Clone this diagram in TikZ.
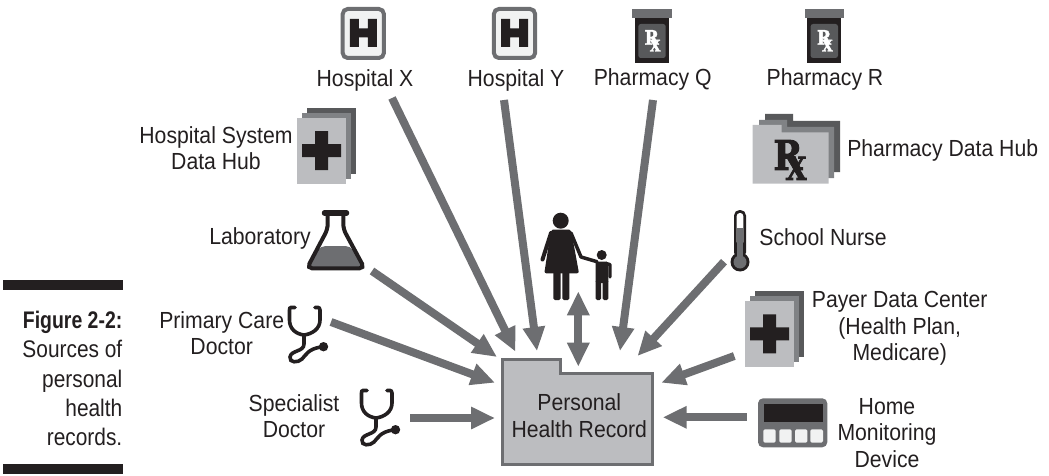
\documentclass[tikz,border=0pt]{standalone}
\usepackage{fontspec}
\setmainfont[FakeStretch=.91]{Liberation Sans}
\newfontfamily\capfont[FakeStretch=.87,BoldFeatures={FakeStretch=.81}]{Liberation Sans}
\newfontfamily\rxfont[FakeStretch=.85,FakeBold=2.2]{DejaVu Serif Bold}
\usetikzlibrary{arrows.meta}
\definecolor{flowgrey}{HTML}{6D6E71}
\definecolor{ink}{HTML}{231F20}
\definecolor{foldergrey}{HTML}{BCBDC0}
\definecolor{midgrey}{HTML}{808285}
\definecolor{darkgrey}{HTML}{58595B}
\definecolor{paper}{HTML}{F1F2F2}
\tikzset{
  lbl/.style={text=ink, align=center, inner sep=0pt, font=\fontsize{23.3}{26.5}\selectfont},
  caption/.style={text=ink, align=right, inner sep=0pt, anchor=east, font=\capfont\fontsize{24}{29.2}\selectfont},
  flow/.style={draw=flowgrey, line width=8pt, -{Triangle[length=24pt,width=21pt]}},
  flowboth/.style={draw=flowgrey, line width=8pt, {Triangle[length=24pt,width=21pt]}-{Triangle[length=24pt,width=21pt]}},
  hospital/.pic={
    \draw[flowgrey, fill=paper, line width=4pt, rounded corners=5pt] (-20.6,-24.5) rectangle (20.6,24.5);
    \fill[ink] (-13.5,-14.5) rectangle (-4.5,13.5) (4.5,-14.5) rectangle (13.5,13.5) (-5,-5) rectangle (5,4);
  },
  bottle/.pic={
    \fill[flowgrey] (-19.7,9) rectangle (19.7,18);
    \fill[ink] (-17,18) rectangle (17,63);
    \fill[darkgrey, rounded corners=2.5pt] (-13.7,24) rectangle (13.7,58);
    \node[white, inner sep=0pt, font=\rxfont\fontsize{20}{20}\selectfont] (-rx) at (0.5,40.8) {R\kern-9pt\raisebox{-6.7pt}{\fontsize{16}{16}\selectfont X}};
  },
  stack/.pic={
    \fill[darkgrey] (-14.5,-43) rectangle (34.5,23);
    \fill[midgrey] (-19.5,-38) rectangle (29.5,28);
    \fill[foldergrey] (-24.5,-33) rectangle (24.5,33);
    \fill[ink] (-19.5,-6.5) rectangle (19.5,6.5) (-6.5,-19.5) rectangle (6.5,19.5);
  },
  scope/.pic={
    \draw[ink, line width=3.6pt, line cap=round] (7,1.5) -- (3,1.5) .. controls (1.8,1.5) and (1.5,2.5) .. (1.5,4) -- (1.5,14) .. controls (1.5,23) and (8,28) .. (16,29) .. controls (24,28) and (32,23) .. (32,14) -- (32,4) .. controls (32,2.5) and (31,1.5) .. (30,1.5) -- (27,1.5);
    \draw[ink, line width=3.6pt] (16,29) -- (16,38) .. controls (16,46) and (3,44) .. (2,51) .. controls (1,57) and (10,57) .. (14,53) .. controls (18,49) and (20,43) .. (33,41);
    \fill[ink] (35.5,40.7) circle[radius=4.7];
  }
}
\begin{document}
\begin{tikzpicture}[x=1pt,y=-1pt]
\useasboundingbox (0,0) rectangle (1049,476);

% caption
\fill[ink] (3,279.5) rectangle (122.5,290);
\fill[ink] (3,463.5) rectangle (122.5,474);
\node[caption] (fig) at (122.5,378.5) {\bfseries Figure 2-2:\\Sources of\\personal\\health\\records.};

% record
\path[draw=flowgrey, fill=foldergrey, line width=3pt] (502,359) -- (560.7,359) -- (560.7,373.3) -- (652.7,373.3) -- (652.7,464) -- (502,464) -- cycle;
\node[lbl] (rec) at (579.3,415.5) {Personal\\Health Record};

% top row
\pic (hospx) at (363.3,33.5) {hospital};
\pic (hospy) at (514.5,33.5) {hospital};
\pic (pharmq) at (652,0) {bottle};
\pic (pharmr) at (824.3,0) {bottle};
\node[lbl] (lhx) at (365,80) {Hospital X};
\node[lbl] (lhy) at (516,80) {Hospital Y};
\node[lbl] (lpq) at (652.7,79) {Pharmacy Q};
\node[lbl] (lpr) at (825,79) {Pharmacy R};

% hubs
\pic (hsys) at (321.5,150.7) {stack};
\node[lbl] (lhs) at (216,148) {Hospital System\\Data Hub};
\fill[darkgrey] (765,121) -- (765,114) -- (793,114) -- (793,121) -- (840,121) -- (840,172) -- (765,172) -- cycle;
\fill[midgrey] (759,127) -- (759,120) -- (787,120) -- (787,127) -- (834,127) -- (834,178) -- (759,178) -- cycle;
\fill[foldergrey] (752.7,183.7) -- (752.7,125) -- (781.7,125) -- (781.7,132.3) -- (828.7,132.3) -- (828.7,183.7) -- cycle;
\node[ink, inner sep=0pt, font=\rxfont\fontsize{41}{41}\selectfont] (rxhub) at (790,160) {R\kern-17pt\raisebox{-10pt}{\fontsize{32}{32}\selectfont X}};
\node[lbl] (lph) at (942.7,150) {Pharmacy Data Hub};

% laboratory
\fill[flowgrey, rounded corners=5pt] (320.5,246) -- (350.5,246) -- (364,268.3) -- (307,268.3) -- cycle;
\draw[ink, line width=4pt, rounded corners=5pt] (327.7,214) -- (327.7,229) -- (307,268.3) -- (364.5,268.3) -- (343.3,229) -- (343.3,214);
\draw[ink, line width=5.5pt, line cap=round] (324.5,213) -- (346.5,213);
\node[lbl] (llab) at (260,238) {Laboratory};

% person and child
\fill[ink] (560.7,220.7) circle[radius=8];
\fill[ink, rounded corners=2pt] (551,229.5) -- (571,229.5) -- (579,273.3) -- (544.3,273.3) -- cycle;
\draw[ink, line width=4pt, line cap=round] (551,233) -- (542.5,259.5);
\draw[ink, line width=3.5pt, line cap=round, line join=round] (571,233) -- (581,257) -- (597,261.7);
\fill[ink, rounded corners=1.5pt] (553.3,270) rectangle (560.7,300);
\fill[ink, rounded corners=1.5pt] (562.3,270) rectangle (569.3,300);
\fill[ink] (601.7,255) circle[radius=5];
\fill[ink, rounded corners=1.5pt] (595.7,261.7) rectangle (608.3,283);
\fill[ink, rounded corners=1.5pt] (595.7,280) rectangle (601,300);
\fill[ink, rounded corners=1.5pt] (602.7,280) rectangle (608.3,300);
\draw[ink, line width=3.3pt, line cap=round, line join=round] (606,263.5) -- (610,264.5) -- (610,277);

% school nurse
\fill[ink] (740,262) circle[radius=9.5];
\fill[ink, rounded corners=5.5pt] (734,210) rectangle (746,258);
\fill[white, rounded corners=3pt] (736.7,213) rectangle (743.3,245);
\fill[flowgrey] (736.7,228.3) rectangle (743.3,258);
\fill[flowgrey] (740,262) circle[radius=6.5];
\node[lbl] (lsn) at (823,237.3) {School Nurse};

% payer
\pic (payer) at (769.5,333.8) {stack};
\node[lbl] (lpay) at (899.7,328.5) {Payer Data Center\\(Health Plan,\\Medicare)};

% doctors
\pic (pcd) at (288,306) {scope};
\pic (spd) at (360,389) {scope};
\node[lbl] (lpcd) at (221.7,333) {Primary Care\\Doctor};
\node[lbl] (lspd) at (294,416) {Specialist\\Doctor};

% home device
\fill[flowgrey, rounded corners=5pt] (758,398.3) rectangle (827.3,447.3);
\fill[ink] (764,404) rectangle (823,422);
\fill[paper, rounded corners=1.5pt] (763.3,429.3) rectangle (775.7,442.7);
\fill[paper, rounded corners=1.5pt] (779.3,429.3) rectangle (791.7,442.7);
\fill[paper, rounded corners=1.5pt] (795,429.3) rectangle (807.3,442.7);
\fill[paper, rounded corners=1.5pt] (810.3,429.3) rectangle (823,442.7);
\node[lbl] (lhm) at (887,433) {Home\\Monitoring\\Device};

% connectors
\coordinate (hxout) at (392,98);
\coordinate (hxin) at (515.5,351.7);
\coordinate (hyout) at (504,100);
\coordinate (hyin) at (537,351);
\coordinate (pqout) at (653,100);
\coordinate (pqin) at (620,351);
\coordinate (snout) at (724,261.7);
\coordinate (snin) at (637.5,356);
\coordinate (payout) at (734.3,356);
\coordinate (payin) at (661.3,382.7);
\coordinate (hmout) at (746.7,417.3);
\coordinate (hmin) at (662.7,417.3);
\coordinate (labout) at (372,271);
\coordinate (labin) at (497,357);
\coordinate (pcdout) at (331,322);
\coordinate (pcdin) at (495,382.7);
\coordinate (spdout) at (410,418);
\coordinate (spdin) at (495,418);
\coordinate (kidend) at (578.3,291.3);
\coordinate (recend) at (578.3,366.7);

\path[draw,flow] (hxout) -- (hxin);
\path[draw,flow] (hyout) -- (hyin);
\path[draw,flow] (pqout) -- (pqin);
\path[draw,flow] (snout) -- (snin);
\path[draw,flow] (payout) -- (payin);
\path[draw,flow] (hmout) -- (hmin);
\path[draw,flow] (labout) -- (labin);
\path[draw,flow] (pcdout) -- (pcdin);
\path[draw,flow] (spdout) -- (spdin);
\path[draw,flowboth] (kidend) -- (recend);
\end{tikzpicture}
\end{document}
